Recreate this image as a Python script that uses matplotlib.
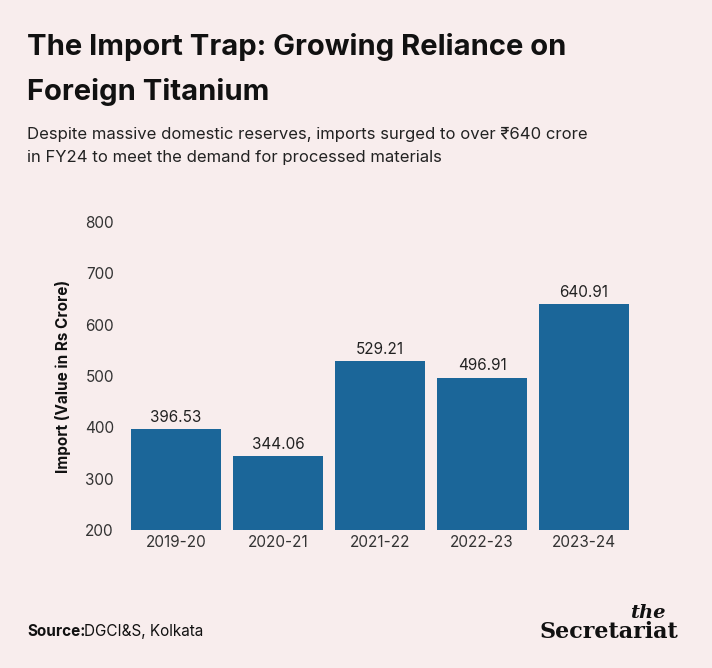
import matplotlib
matplotlib.use("Agg")
import matplotlib.pyplot as plt

years = ["2019-20", "2020-21", "2021-22", "2022-23", "2023-24"]
values = [396.53, 344.06, 529.21, 496.91, 640.91]
yticks = [200, 300, 400, 500, 600, 700, 800]

bg = "#f8eded"
bar_c = "#1b6699"
plt.rcParams['font.family'] = ['Inter', 'DejaVu Sans']

fig = plt.figure(figsize=(7.12, 6.68), dpi=100, facecolor=bg)
ax = fig.add_axes([0.1756, 0.2066, 0.7163, 0.4611], facecolor=bg)
ax.bar(range(len(years)), values, width=0.89, color=bar_c, bottom=0)
for i, v in enumerate(values):
    ax.text(i, v + 8, f"{v:.2f}", ha="center", va="bottom", fontsize=11, color="#222222")
ax.set_ylim(200, 800)
ax.set_xlim(-0.5, 4.5)
ax.set_yticks(yticks)
ax.set_xticks(range(len(years)))
ax.set_xticklabels(years)
ax.tick_params(length=0, labelsize=11, colors="#333333")
ax.tick_params(axis="y", pad=8)
for s in ax.spines.values():
    s.set_visible(False)
ax.set_ylabel("Import (Value in Rs Crore)", fontsize=11, fontweight="bold", color="#111111", labelpad=10)

fig.text(0.038, 0.93, "The Import Trap: Growing Reliance on", fontsize=21, fontweight="bold", color="#111111", va="center")
fig.text(0.038, 0.862, "Foreign Titanium", fontsize=21, fontweight="bold", color="#111111", va="center")
fig.text(0.038, 0.798, "Despite massive domestic reserves, imports surged to over ₹640 crore", fontsize=12, color="#222222", va="center")
fig.text(0.038, 0.764, "in FY24 to meet the demand for processed materials", fontsize=12, color="#222222", va="center")
fig.text(0.038, 0.054, "Source:", fontsize=11, fontweight="bold", color="#111111", va="center")
fig.text(0.118, 0.054, "DGCI&S, Kolkata", fontsize=11, color="#111111", va="center")
fig.text(0.91, 0.082, "the", fontsize=14, fontweight="bold", fontstyle="italic", family="DejaVu Serif", color="#111111", ha="center", va="center")
fig.text(0.855, 0.054, "Secretariat", fontsize=16, fontweight="bold", family="DejaVu Serif", color="#111111", ha="center", va="center")
fig.savefig("out.png", dpi=100, facecolor=bg)
